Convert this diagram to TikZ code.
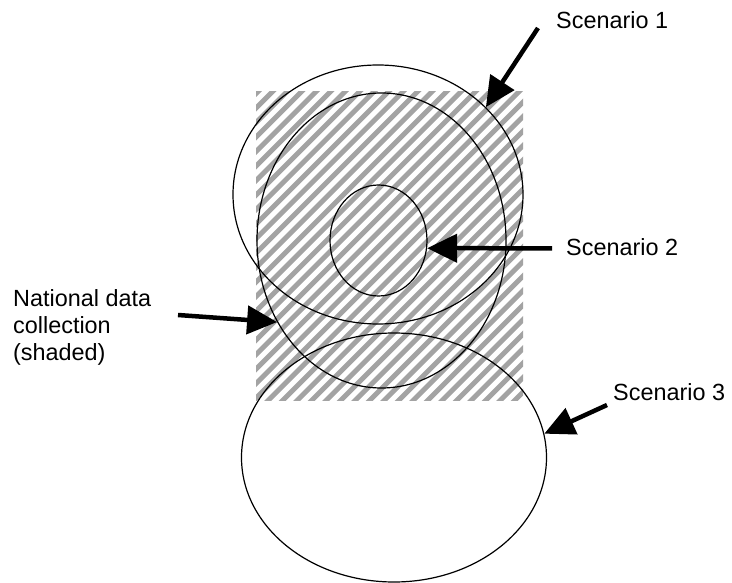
\documentclass[tikz,border=0pt]{standalone}
\usepackage{fontspec}
\setmainfont{Liberation Sans}
\usetikzlibrary{arrows.meta,shapes.geometric}

\begin{document}
\begin{tikzpicture}[
  x=1pt,y=-1pt,
  ell/.style={draw,ellipse,inner sep=0pt,line width=1.2pt},
  lbl/.style={inner sep=0pt,anchor=base west,font=\fontsize{23.4}{27}\selectfont},
  a/.style={-{Triangle[length=30pt,width=28pt]},line width=4.5pt},
  stripe/.style={line width=5pt,draw=black!36}
]
\useasboundingbox (0,0) rectangle (732,583);
% shaded area
\begin{scope}
  \clip (256,92) rectangle (523,400);
  \foreach \k in {-1,...,41} {
    \pgfmathsetmacro{\c}{349.7+14.5*\k}
    \draw[stripe] (\c-50,50) -- (\c-450,450);
  }
\end{scope}
\node[ell,minimum width=290pt,minimum height=259pt] (sc1) at (378,194.5) {};
\node[ell,minimum width=249pt,minimum height=295pt] (nat) at (381.5,240.5) {};
\node[ell,minimum width=97pt,minimum height=111pt] (sc2) at (378.5,240.5) {};
\node[ell,minimum width=305pt,minimum height=249pt] (sc3) at (394,457.5) {};
\node[lbl] (l1) at (556,29) {Scenario 1};
\node[lbl] (l2) at (566,256) {Scenario 2};
\node[lbl] (l3) at (613,400) {Scenario 3};
\node[lbl,align=left] (l0) at (13,360) {National data\\collection\\(shaded)};
\coordinate (t1) at (538,28);
\coordinate (t2) at (552,248.3);
\coordinate (t3) at (607,405);
\coordinate (t0) at (178,315);
\draw[a] (t1) -- (sc1.39);
\draw[a] (t2) -- (sc2.-9);
\draw[a] (t3) -- (sc3.9);
\draw[a] (t0) -- (nat.218);
\end{tikzpicture}
\end{document}
